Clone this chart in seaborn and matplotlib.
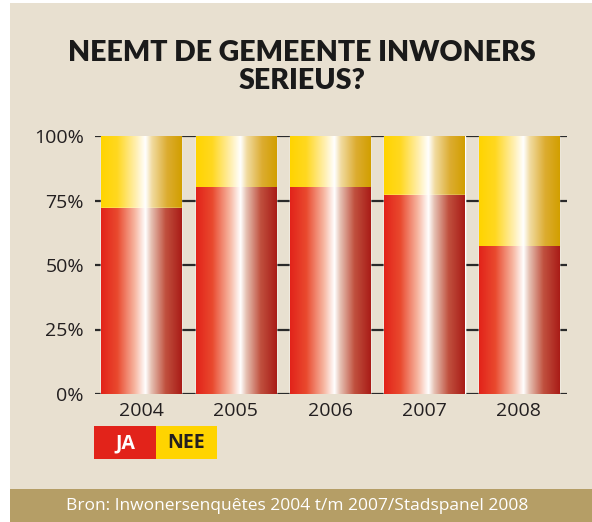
import numpy as np
import pandas as pd
import matplotlib
matplotlib.use("Agg")
import matplotlib.pyplot as plt
import seaborn as sns
from matplotlib.colors import LinearSegmentedColormap
from matplotlib.patches import Rectangle

years = ["2004", "2005", "2006", "2007", "2008"]
ja = [72, 80, 80, 77, 57]
nee = [28, 20, 20, 23, 43]
yticks = [0, 25, 50, 75, 100]
ytick_labels = ["0%", "25%", "50%", "75%", "100%"]
title = "NEEMT DE GEMEENTE INWONERS\nSERIEUS?"
source = "Bron: Inwonersenquêtes 2004 t/m 2007/Stadspanel 2008"

BG = "#e8e0d0"
FOOT = "#b59e66"
INK = "#231f20"

sns.set_theme(style="white")
plt.rcParams["font.family"] = ["Open Sans", "DejaVu Sans"]

fig = plt.figure(figsize=(5.92, 5.22), dpi=100)
fig.patch.set_facecolor("white")
W, H = 592, 522
fig.patches.append(Rectangle((10 / W, 0), 1, 1 - 3 / H, transform=fig.transFigure,
                             facecolor=BG, edgecolor="none", zorder=-5))
fig.patches.append(Rectangle((10 / W, 0), 1, 33 / H, transform=fig.transFigure,
                             facecolor=FOOT, edgecolor="none", zorder=-4))

ax = fig.add_axes([95 / W, (522 - 394) / H, 472 / W, 258 / H])
ax.set_facecolor("none")
ax.set_zorder(2)

df = pd.DataFrame({"jaar": years, "JA": ja, "NEE": nee})
df["totaal"] = df["JA"] + df["NEE"]

sns.barplot(data=df, x="jaar", y="totaal", color="#ffd400", width=0.85, ax=ax,
            saturation=1, zorder=2)
n_top = len(ax.patches)
sns.barplot(data=df, x="jaar", y="JA", color="#e2231a", width=0.85, ax=ax,
            saturation=1, zorder=3)

red_cmap = LinearSegmentedColormap.from_list("r", [
    (0, "#e2231a"), (0.2, "#e9492e"), (0.42, "#f7b7a2"), (0.55, "#ffffff"),
    (0.62, "#e6c2b4"), (0.8, "#c0503e"), (1, "#a91c17")])
yel_cmap = LinearSegmentedColormap.from_list("y", [
    (0, "#ffd400"), (0.2, "#ffd820"), (0.42, "#ffeeaa"), (0.55, "#ffffff"),
    (0.63, "#f1dba0"), (0.82, "#dcac30"), (1, "#d29f00")])

grad = np.linspace(0, 1, 256).reshape(1, -1)
for i, p in enumerate(list(ax.patches)):
    x0, w, h, y0 = p.get_x(), p.get_width(), p.get_height(), p.get_y()
    cmap = yel_cmap if i < n_top else red_cmap
    ax.imshow(grad, cmap=cmap, aspect="auto", extent=(x0, x0 + w, y0, y0 + h),
              zorder=p.get_zorder() + 0.1, interpolation="bilinear")

ax.set_xlim(-0.49, 4.51)
ax.set_ylim(0, 100)
ax.set_yticks(yticks)
ax.set_yticklabels(ytick_labels)
for y in yticks:
    ax.axhline(y, color="#2a2a2a", lw=1.6, zorder=1)
ax.set_xlabel("")
ax.set_ylabel("")
for s in ax.spines.values():
    s.set_visible(False)
ax.tick_params(axis="both", length=0, labelsize=14, colors=INK)
ax.tick_params(axis="y", pad=8)
ax.tick_params(axis="x", pad=6)

fig.text(302 / W, 1 - 67 / H, title, ha="center", va="center", fontsize=20.5,
         fontweight="heavy", color="#1a1a1a", linespacing=1.08,
         family=["Lato", "DejaVu Sans"])

# legend boxes
fig.patches.append(Rectangle((94 / W, 1 - 459 / H), 62 / W, 33 / H, transform=fig.transFigure,
                             facecolor="#e2231a", edgecolor="none", zorder=1))
fig.patches.append(Rectangle((156 / W, 1 - 459 / H), 61 / W, 33 / H, transform=fig.transFigure,
                             facecolor="#ffd400", edgecolor="none", zorder=1))
fig.text(125 / W, 1 - 443 / H, "JA", ha="center", va="center", fontsize=14,
         fontweight="bold", color="white")
fig.text(186 / W, 1 - 443 / H, "NEE", ha="center", va="center", fontsize=14,
         fontweight="bold", color=INK)

fig.text(297 / W, 1 - 506 / H, source, ha="center", va="center", fontsize=12.5,
         color="white")

fig.savefig("out.png", dpi=100, facecolor=fig.get_facecolor())
